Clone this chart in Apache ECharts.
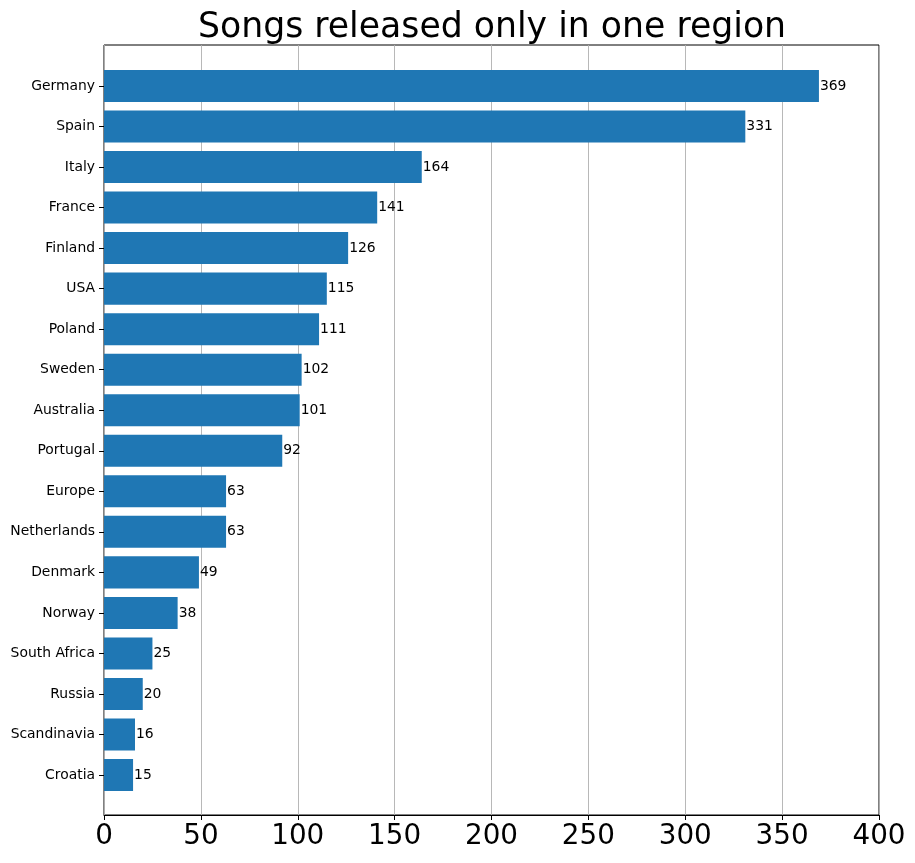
<!DOCTYPE html>
<html>
<head>
<meta charset="utf-8">
<script src="https://cdn.jsdelivr.net/npm/echarts@6/dist/echarts.min.js"></script>
<style>
html,body{margin:0;padding:0;background:#fff;}
#chart{width:915px;height:863px;}
</style>
</head>
<body>
<div id="chart"></div>
<script>
const regions = ["Germany","Spain","Italy","France","Finland","USA","Poland","Sweden","Australia","Portugal","Europe","Netherlands","Denmark","Norway","South Africa","Russia","Scandinavia","Croatia"];
const songCounts = [369,331,164,141,126,115,111,102,101,92,63,63,49,38,25,20,16,15];
const xTicks = [0,50,100,150,200,250,300,350,400];

const font = "DejaVu Sans";
const chart = echarts.init(document.getElementById('chart'), null, {renderer:'canvas'});
chart.setOption({
  animation:false,
  backgroundColor:'#fff',
  title:{
    text:'Songs released only in one region',
    left:487, textAlign:'center', top:5,
    textStyle:{fontFamily:font, fontSize:34.7, fontWeight:'normal', color:'#000'}
  },
  grid:[
    {left:104, right:36, top:45, bottom:48, show:true, borderColor:'#000', borderWidth:1, backgroundColor:'transparent', containLabel:false},
    {left:104, right:36, top:65.7, bottom:67.7, containLabel:false}
  ],
  xAxis:[
    {gridIndex:0, type:'value', min:xTicks[0], max:xTicks[xTicks.length-1], interval:50,
     axisLine:{show:true, lineStyle:{color:'#000', width:1}},
     axisTick:{show:true, length:5, lineStyle:{color:'#000'}},
     axisLabel:{fontFamily:font, fontSize:27.8, color:'#000', margin:8},
     splitLine:{show:true, lineStyle:{color:'#b0b0b0', width:0.9}}},
    {gridIndex:1, type:'value', min:xTicks[0], max:xTicks[xTicks.length-1], show:false}
  ],
  yAxis:[
    {gridIndex:0, type:'value', min:0, max:1, show:false},
    {gridIndex:1, type:'category', data:regions, inverse:true,
     axisLine:{show:false},
     axisTick:{show:true, alignWithLabel:true, length:5, lineStyle:{color:'#000'}},
     axisLabel:{fontFamily:font, fontSize:13.9, color:'#000', margin:9},
     splitLine:{show:false}}
  ],
  series:[{
    type:'bar', xAxisIndex:1, yAxisIndex:1,
    data:songCounts, barWidth:'79%',
    itemStyle:{color:'#1f77b4'},
    label:{show:true, position:'right', distance:1, fontFamily:font, fontSize:13.9, color:'#000'}
  }]
});
</script>
</body>
</html>
